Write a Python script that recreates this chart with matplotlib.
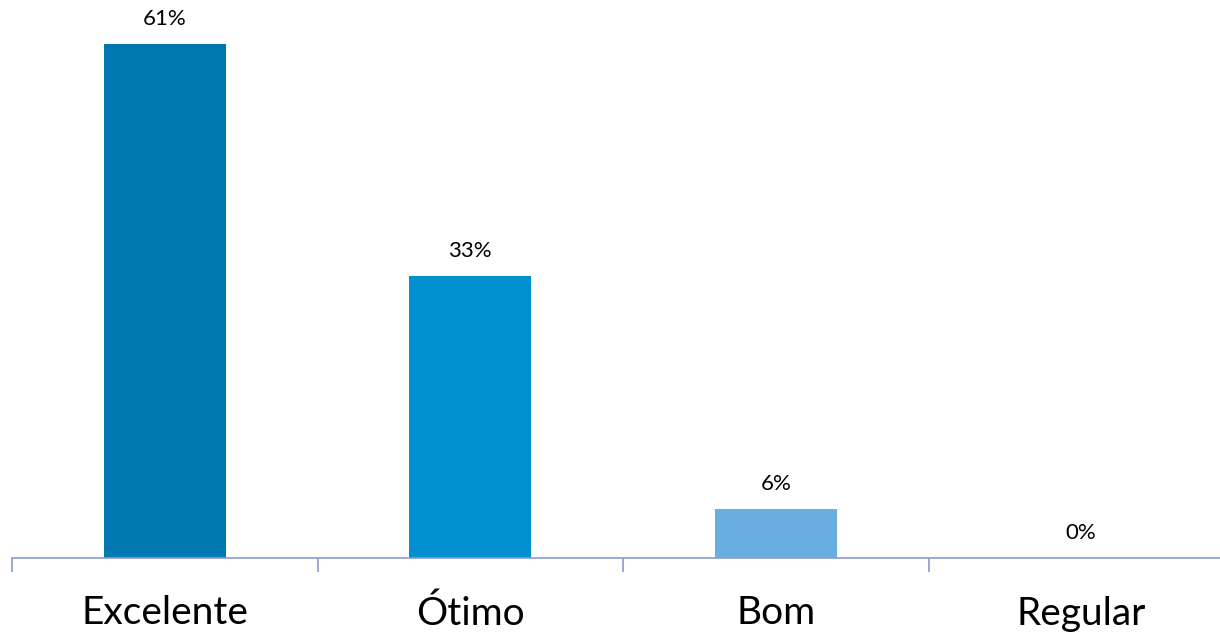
import matplotlib
matplotlib.use("Agg")
import matplotlib.pyplot as plt

categories = ["Excelente", "Ótimo", "Bom", "Regular"]
values = [61.0, 33.4, 5.8, 0.0]
labels = ["61%", "33%", "6%", "0%"]
colors = ["#0077AE", "#0090D0", "#69AEE0", "#69AEE0"]

W, H = 1220, 636
fig = plt.figure(figsize=(W / 100, H / 100), dpi=100)
left_px, right_px = 12, 1234
bottom_px, top_px = 558, 0
ax = fig.add_axes([left_px / W, (H - bottom_px) / H,
                   (right_px - left_px) / W, (bottom_px - top_px) / H])

x = list(range(len(categories)))
ax.bar(x, values, width=0.4, color=colors, zorder=2)
ax.set_xlim(-0.5, len(categories) - 0.5)
ax.set_ylim(0, 66.2)

for xi, v, lab in zip(x, values, labels):
    ax.annotate(lab, (xi, v), xytext=(0, 11), textcoords="offset points",
                ha="center", va="bottom", fontsize=16, family="Lato",
                color="#000000")

axis_color = "#8C9ACD"
for s in ["top", "right", "left"]:
    ax.spines[s].set_visible(False)
ax.spines["bottom"].set_color(axis_color)
ax.spines["bottom"].set_linewidth(1.2)
ax.set_yticks([])

ax.set_xticks([-0.5, 0.5, 1.5, 2.5, 3.5])
ax.set_xticklabels([])
ax.tick_params(axis="x", which="major", length=10, width=1.2, color=axis_color)
ax.set_xticks(x, minor=True)
ax.set_xticklabels(categories, minor=True, fontsize=28, family="Lato")
ax.tick_params(axis="x", which="minor", length=0, pad=27)

fig.savefig("out.png", dpi=100, facecolor="white")
